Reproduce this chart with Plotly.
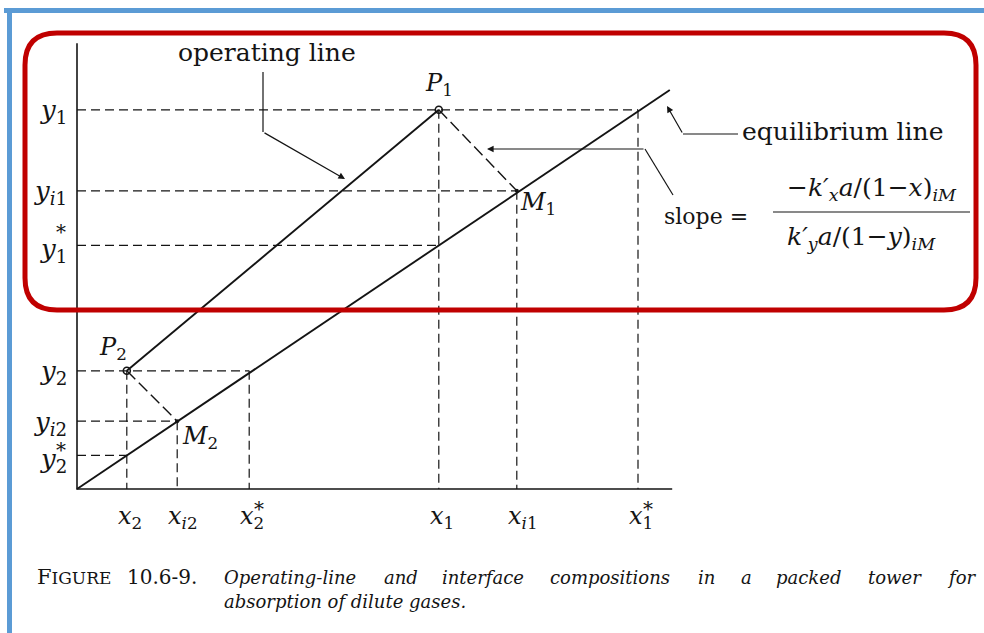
import plotly.graph_objects as go

# ---- compositions read along the tower (mole fractions) ----
# bottom of tower (concentrated end, point P1) and top (dilute end, point P2)
x_end1 = [0.603, 0.733, 0.935]   # x1, xi1, x1*
y_end1 = [0.632, 0.497, 0.406]   # y1, yi1, y1*
x_end2 = [0.083, 0.167, 0.287]   # x2, xi2, x2*
y_end2 = [0.197, 0.113, 0.056]   # y2, yi2, y2*

# straight equilibrium line (dilute gases) and operating line P2 -> P1
eq_x = [0.0, 0.988]
eq_y = [0.0, 0.665]
op_x = [x_end2[0], x_end1[0]]
op_y = [y_end2[0], y_end1[0]]

# axis extents
x_axis_end = 0.992
y_axis_end = 0.743

# ---- page geometry: 600 px per mole-fraction unit, origin at (77, 489) px ----
W, H = 984, 633
SCALE = 600.0
OX, OY = 77.0, 489.0


def dx(px):
    return (px - OX) / SCALE


def dy(py):
    return (OY - py) / SCALE


INK = "#141414"
SERIF = "DejaVu Serif"

fig = go.Figure()

# axes
fig.add_trace(go.Scatter(x=[0, 0, x_axis_end], y=[y_axis_end, 0, 0], mode="lines",
                         line=dict(color=INK, width=1.6), hoverinfo="skip"))

# dashed construction lines: horizontals from the y-axis, verticals down to the x-axis
gx, gy = [], []
for (xs, ys) in [(x_end1, y_end1), (x_end2, y_end2)]:
    x_op, x_i, x_star = xs
    y_op, y_i, y_star = ys
    for level, x_stop in [(y_op, x_star), (y_i, x_i), (y_star, x_op)]:
        gx += [0, x_stop, None]
        gy += [level, level, None]
    for xv, y_top in [(x_op, y_op), (x_i, y_i), (x_star, y_op)]:
        gx += [xv, xv, None]
        gy += [y_top, 0, None]
fig.add_trace(go.Scatter(x=gx, y=gy, mode="lines", connectgaps=False,
                         line=dict(color=INK, width=1.2, dash="9px,5px"), hoverinfo="skip"))

# tie lines P -> M (dashed)
tx = [x_end1[0], x_end1[1], None, x_end2[0], x_end2[1]]
ty = [y_end1[0], y_end1[1], None, y_end2[0], y_end2[1]]
fig.add_trace(go.Scatter(x=tx, y=ty, mode="lines",
                         line=dict(color=INK, width=1.4, dash="12px,5px"), hoverinfo="skip"))

# equilibrium and operating lines
fig.add_trace(go.Scatter(x=eq_x, y=eq_y, mode="lines",
                         line=dict(color=INK, width=1.9), hoverinfo="skip"))
fig.add_trace(go.Scatter(x=op_x, y=op_y, mode="lines",
                         line=dict(color=INK, width=1.9), hoverinfo="skip"))

# points P (open) and M (dots)
fig.add_trace(go.Scatter(x=[x_end1[0], x_end2[0]], y=[y_end1[0], y_end2[0]], mode="markers",
                         marker=dict(symbol="circle-open", size=7, color=INK, line=dict(width=1.6)),
                         hoverinfo="skip"))
fig.add_trace(go.Scatter(x=[x_end1[1], x_end2[1]], y=[y_end1[1], y_end2[1]], mode="markers",
                         marker=dict(symbol="circle", size=4, color=INK), hoverinfo="skip"))

ann = []


def text(x, y, s, size=24, xa="center", ya="middle", xs=0, ys=0, font=SERIF):
    ann.append(dict(x=x, y=y, xref="x", yref="y", text=s, showarrow=False,
                    xanchor=xa, yanchor=ya, xshift=xs, yshift=ys,
                    font=dict(family=font, size=size, color=INK)))


# y-axis labels (star offsets differ a little between the two ends)
y_names = [("1", y_end1, 13), ("2", y_end2, 5)]
for k, ys, star_up in y_names:
    text(0, ys[0], f"<i>y</i><sub>{k}</sub>", size=26, xa="right", xs=-8, ys=-2)
    text(0, ys[1], f"<i>y<sub>i</sub></i><sub>{k}</sub>", size=26, xa="right", xs=-8, ys=-2)
    text(0, ys[2], f"<i>y</i><sub>{k}</sub>", size=26, xa="right", xs=-8, ys=-5)
    text(0, ys[2], "*", size=20, xa="center", xs=-16, ys=star_up)

# x-axis labels
x_names = [("1", x_end1), ("2", x_end2)]
for k, xs in x_names:
    text(xs[0], 0, f"<i>x</i><sub>{k}</sub>", ya="top", xs=3, ys=-11)
    text(xs[1], 0, f"<i>x<sub>i</sub></i><sub>{k}</sub>", ya="top", xs=6, ys=-11)
    text(xs[2], 0, f"<i>x</i><sub>{k}</sub>", ya="top", xs=3, ys=-11)
    text(xs[2], 0, "*", size=20, xs=10, ys=-20)

# point labels
text(x_end1[0], y_end1[0], "<i>P</i><sub>1</sub>", xs=0, ys=25)
text(x_end2[0], y_end2[0], "<i>P</i><sub>2</sub>", xs=-14, ys=22)
text(x_end1[1], y_end1[1], "<i>M</i><sub>1</sub>", xa="left", xs=1, ys=-13)
text(x_end2[1], y_end2[1], "<i>M</i><sub>2</sub>", xa="left", xs=3, ys=-16)

# callouts
text(dx(267), dy(52), "operating line", size=25)
text(dx(740), dy(131), "equilibrium line", size=25, xa="left")
text(dx(706), dy(216), "slope =", size=22)
text(dx(872), dy(189), "<i>−k′<sub>x</sub>a</i>/(1−<i>x</i>)<sub><i>iM</i></sub>", size=25)
text(dx(861), dy(238), "<i>k′<sub>y</sub>a</i>/(1−<i>y</i>)<sub><i>iM</i></sub>", size=25)

leaders = [
    # operating line callout: tip on the operating line, elbow, end under the label
    ([dx(263), dx(263)], [dy(72), dy(132)], (dx(345), dy(179)), (dx(263), dy(132))),
    # equilibrium line callout
    ([dx(738), dx(683)], [dy(134), dy(134)], (dx(667), dy(106)), (dx(683), dy(134))),
    # slope callout
    ([dx(673), dx(645)], [dy(195), dy(149)], (dx(487), dy(149)), (dx(645), dy(149))),
]
lx, ly = [], []
for segx, segy, tip, tail in leaders:
    lx += segx + [None]
    ly += segy + [None]
    ann.append(dict(x=tip[0], y=tip[1], ax=tail[0], ay=tail[1], xref="x", yref="y",
                    axref="x", ayref="y", text="", showarrow=True, arrowhead=2,
                    arrowsize=1.1, arrowwidth=1.2, arrowcolor=INK))
fig.add_trace(go.Scatter(x=lx, y=ly, mode="lines", line=dict(color=INK, width=1.2),
                         hoverinfo="skip"))

# caption
cap_font = dict(family=SERIF, size=18, color=INK)
ann.append(dict(x=dx(35), y=dy(577), xref="x", yref="y", showarrow=False, xanchor="left",
                yanchor="middle",
                text="F<span style='font-size:17px'>IGURE</span>",
                font=dict(family=SERIF, size=21, color=INK)))
ann.append(dict(x=dx(125), y=dy(577), xref="x", yref="y", showarrow=False, xanchor="left",
                yanchor="middle", text="10.6-9.",
                font=dict(family=SERIF, size=20, color=INK)))
words = ["Operating-line", "and", "interface", "compositions", "in", "a", "packed", "tower", "for"]
word_px = [222, 382, 440, 548, 696, 739, 774, 866, 945]
for w, p in zip(words, word_px):
    ann.append(dict(x=dx(p), y=dy(577), xref="x", yref="y", showarrow=False, xanchor="left",
                    yanchor="middle", text=f"<i>{w}</i>", font=cap_font))
ann.append(dict(x=dx(222), y=dy(601), xref="x", yref="y", showarrow=False, xanchor="left",
                yanchor="middle", text="<i>absorption of dilute gases.</i>", font=cap_font))

# fraction bar
shapes = [dict(type="line", xref="x", yref="y", x0=dx(773), x1=dx(970), y0=dy(212), y1=dy(212),
               line=dict(color=INK, width=1.2))]


def P(px, py):
    return f"{px / W:.5f},{1 - py / H:.5f}"


# slide frame (blue) and highlight box (red, rounded)
shapes.append(dict(type="line", xref="paper", yref="paper", x0=4 / W, x1=1, y0=1 - 10.5 / H,
                   y1=1 - 10.5 / H, line=dict(color="#5B9BD5", width=5)))
shapes.append(dict(type="line", xref="paper", yref="paper", x0=9.5 / W, x1=9.5 / W, y0=0,
                   y1=1 - 8 / H, line=dict(color="#5B9BD5", width=5)))
L, R, T, B, r = 25, 976, 33, 310, 32
path = (f"M{P(L + r, T)} L{P(R - r, T)} Q{P(R, T)} {P(R, T + r)} L{P(R, B - r)} "
        f"Q{P(R, B)} {P(R - r, B)} L{P(L + r, B)} Q{P(L, B)} {P(L, B - r)} "
        f"L{P(L, T + r)} Q{P(L, T)} {P(L + r, T)} Z")
shapes.append(dict(type="path", xref="paper", yref="paper", path=path,
                   line=dict(color="#C00000", width=5)))

fig.update_layout(
    width=W, height=H, autosize=False,
    margin=dict(l=0, r=0, t=0, b=0),
    paper_bgcolor="white", plot_bgcolor="white",
    showlegend=False,
    xaxis=dict(range=[dx(0), dx(W)], visible=False, fixedrange=True),
    yaxis=dict(range=[dy(H), dy(0)], visible=False, fixedrange=True),
    annotations=ann, shapes=shapes,
)

fig.write_html("out.html")
